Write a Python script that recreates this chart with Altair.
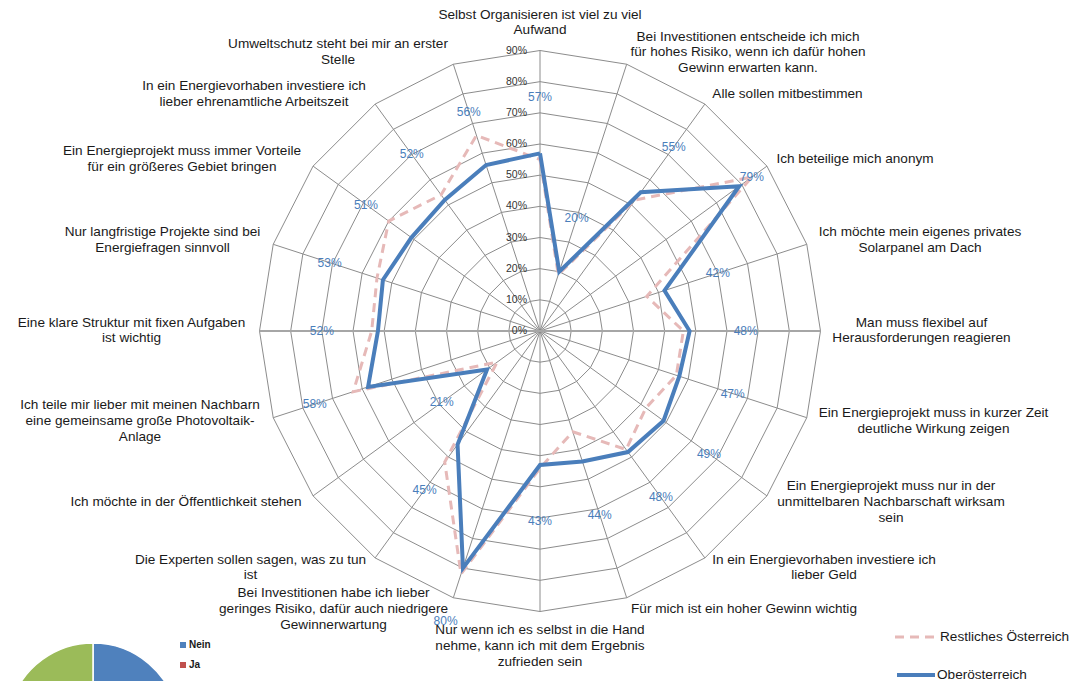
import altair as alt
import pandas as pd

# ---------------- data ----------------
categories = [
    "Selbst Organisieren ist viel zu viel\nAufwand",
    "Bei Investitionen entscheide ich mich\nfür hohes Risiko, wenn ich dafür hohen\nGewinn erwarten kann.",
    "Alle sollen mitbestimmen",
    "Ich beteilige mich anonym",
    "Ich möchte mein eigenes privates\nSolarpanel am Dach",
    "Man muss flexibel auf\nHerausforderungen reagieren",
    "Ein Energieprojekt muss in kurzer Zeit\ndeutliche Wirkung zeigen",
    "Ein Energieprojekt muss nur in der\nunmittelbaren Nachbarschaft wirksam\nsein",
    "In ein Energievorhaben investiere ich\nlieber Geld",
    "Für mich ist ein hoher Gewinn wichtig",
    "Nur wenn ich es selbst in die Hand\nnehme, kann ich mit dem Ergebnis\nzufrieden sein",
    "Bei Investitionen habe ich lieber\ngeringes Risiko, dafür auch niedrigere\nGewinnerwartung",
    "Die Experten sollen sagen, was zu tun\nist",
    "Ich möchte in der Öffentlichkeit stehen",
    "Ich teile mir lieber mit meinen Nachbarn\neine gemeinsame große Photovoltaik-\nAnlage",
    "Eine klare Struktur mit fixen Aufgaben\nist wichtig",
    "Nur langfristige Projekte sind bei\nEnergiefragen sinnvoll",
    "Ein Energieprojekt muss immer Vorteile\nfür ein größeres Gebiet bringen",
    "In ein Energievorhaben investiere ich\nlieber ehrenamtliche Arbeitszeit",
    "Umweltschutz steht bei mir an erster\nStelle",
]
oberoesterreich = [57, 20, 55, 79, 42, 48, 47, 49, 48, 44, 43, 80, 45, 21, 58, 52, 53, 51, 52, 56]
restliches = [55, 19, 52, 84, 36, 46, 46, 42, 47, 34, 44, 82, 52, 17, 63, 54, 55, 60, 54, 66]
series_names = ["Restliches Österreich", "Oberösterreich"]
grid_levels = [10, 20, 30, 40, 50, 60, 70, 80, 90]
tick_values = [0, 10, 20, 30, 40, 50, 60, 70, 80, 90]
tick_labels = ["0%", "10%", "20%", "30%", "40%", "50%", "60%", "70%", "80%", "90%"]
pie_labels = ["Nein", "Ja", "Keine Angabe"]
pie_values = [45, 15, 40]
pie_legend_labels = ["Nein", "Ja"]

# ---------------- layout (not data) ----------------
W, H = 1087, 681
CX, CY = 540.0, 331.0          # radar centre, px
K = 280.5 / 90.0               # px per percentage point
N = len(categories)
LH = 15.7                      # category label line height
LABEL_OFFSET = [18] * N        # value-label radial offset (percentage points)
LABEL_OFFSET[3] = 5
LABEL_POS = [(540, 22.5), (748, 52.5), (787.5, 94), (855, 159), (920, 240),
             (921.5, 330.5), (933.5, 421), (891, 502), (824, 567.5), (744, 609),
             (540, 646), (333.5, 609), (250.5, 567.5), (186, 502), (140, 421),
             (131.5, 330.5), (162.5, 240), (182, 159), (254, 94), (338, 52)]
FONT = "Liberation Sans"
BLUE = "#4A7EBB"
PINK = "#E6B9B8"
GRID = "#8C8C8C"

xs = alt.Scale(domain=[-CX / K, (W - CX) / K], range=[0, W], nice=False, zero=False)
ys = alt.Scale(domain=[-(H - CY) / K, CY / K], range=[H, 0], nice=False, zero=False)
X = lambda f: alt.X(f, type="quantitative", scale=xs, axis=None)
Y = lambda f: alt.Y(f, type="quantitative", scale=ys, axis=None)
X2 = lambda f: alt.X2(f)
Y2 = lambda f: alt.Y2(f)

XE = f"datum.v*sin(datum.idx*PI/{N//2})"
YE = f"datum.v*cos(datum.idx*PI/{N//2})"

# grid rings
grid_df = pd.DataFrame([{"lvl": L, "k": k, "idx": k % N, "v": L}
                        for L in grid_levels for k in range(N + 1)])
grid = alt.Chart(grid_df).transform_calculate(x=XE, y=YE).mark_line(
    color=GRID, strokeWidth=1).encode(
    x=X("x"), y=Y("y"), detail="lvl:N", order="k:Q")

# spokes
spoke_df = pd.DataFrame({"idx": list(range(N)), "v": [grid_levels[-1]] * N})
spokes = alt.Chart(spoke_df).transform_calculate(x=XE, y=YE, x0="0", y0="0").mark_rule(
    color=GRID, strokeWidth=1).encode(x=X("x0"), y=Y("y0"), x2=X2("x"), y2=Y2("y"))

# horizontal axis line
hax_df = pd.DataFrame({"a": [-grid_levels[-1]], "b": [grid_levels[-1]], "z": [0]})
hax = alt.Chart(hax_df).mark_rule(color="#A6A6A6", strokeWidth=2).encode(
    x=X("a"), x2=X2("b"), y=Y("z"))

# tick labels
tick_df = pd.DataFrame({"v": tick_values, "t": tick_labels, "z": [0] * len(tick_values)})
ticks = alt.Chart(tick_df).mark_text(
    align="right", baseline="middle", dx=-13, fontSize=10.5, font=FONT, color="#333333").encode(
    x=X("z"), y=Y("v"), text="t:N")

# series lines
def series_df(vals, name):
    return pd.DataFrame([{"k": k, "idx": k % N, "v": vals[k % N], "s": name} for k in range(N + 1)])

red_line = alt.Chart(series_df(restliches, series_names[0])).transform_calculate(x=XE, y=YE).mark_line(
    color=PINK, strokeWidth=3, strokeDash=[9, 6], strokeJoin="miter").encode(
    x=X("x"), y=Y("y"), order="k:Q")
blue_line = alt.Chart(series_df(oberoesterreich, series_names[1])).transform_calculate(x=XE, y=YE).mark_line(
    color=BLUE, strokeWidth=4, strokeJoin="miter").encode(
    x=X("x"), y=Y("y"), order="k:Q")

# value labels (Oberösterreich)
vl_df = pd.DataFrame({"idx": list(range(N)),
                      "v": [oberoesterreich[i] + LABEL_OFFSET[i] for i in range(N)],
                      "t": [f"{p}%" for p in oberoesterreich]})
vlabels = alt.Chart(vl_df).transform_calculate(x=XE, y=YE).mark_text(
    align="center", baseline="middle", fontSize=12, font=FONT, color=BLUE).encode(
    x=X("x"), y=Y("y"), text="t:N")

# category labels (y of the first line = block centre minus half the extra lines)
cat_df = pd.DataFrame({"c": categories,
                       "px": [p[0] for p in LABEL_POS],
                       "py": [p[1] for p in LABEL_POS],
                       "nl": [c.count("\n") for c in categories]})
clabels = alt.Chart(cat_df).transform_calculate(
    x=f"(datum.px-{CX})/{K}",
    y=f"({CY}-(datum.py-datum.nl*{LH}/2))/{K}").mark_text(
    align="center", baseline="middle", fontSize=13.6, lineHeight=LH, lineBreak="\n",
    font=FONT, color="#1A1A1A").encode(x=X("x"), y=Y("y"), text="c:N")

# legend (series)
one = pd.DataFrame({"a": [0]})
leg_red = alt.Chart(one).mark_rule(color=PINK, strokeWidth=3, strokeDash=[9, 6]).encode(
    x=alt.value(895), x2=alt.value(935), y=alt.value(637))
leg_blue = alt.Chart(one).mark_rule(color=BLUE, strokeWidth=4).encode(
    x=alt.value(897), x2=alt.value(935), y=alt.value(675))
leg_t1 = alt.Chart(one).mark_text(align="left", baseline="middle", fontSize=13.6, font=FONT,
                                  color="#1A1A1A", text=series_names[0]).encode(
    x=alt.value(940), y=alt.value(637))
leg_t2 = alt.Chart(one).mark_text(align="left", baseline="middle", fontSize=13.6, font=FONT,
                                  color="#1A1A1A", text=series_names[1]).encode(
    x=alt.value(937), y=alt.value(675))

# partially visible pie in the lower-left corner
pie_colors = ["#4F81BD", "#C0504D", "#9BBB59"]
pie_df = pd.DataFrame({"lab": pie_labels, "pv": pie_values, "po": [0, 1, 2], "col": pie_colors})
pie = alt.Chart(pie_df).mark_arc(outerRadius=86, stroke="white", strokeWidth=1.5).encode(
    theta=alt.Theta("pv:Q", stack=True), order=alt.Order("po:Q"),
    color=alt.Color("col:N", scale=None), x=alt.value(93), y=alt.value(729))
pl_df = pd.DataFrame({"lab": pie_legend_labels, "col": pie_colors[:2], "py": [645, 665]})
pie_sq = alt.Chart(pl_df).mark_square(size=36, opacity=1).encode(
    x=alt.value(183), y=alt.Y("py:Q", scale=None), color=alt.Color("col:N", scale=None))
pie_tx = alt.Chart(pl_df).mark_text(align="left", baseline="middle", fontSize=10, fontWeight="bold",
                                    font=FONT, color="#1A1A1A").encode(
    x=alt.value(189), y=alt.Y("py:Q", scale=None), text="lab:N")

chart = alt.layer(
    grid, spokes, hax, ticks, red_line, blue_line, vlabels, clabels,
    leg_red, leg_blue, leg_t1, leg_t2, pie, pie_sq, pie_tx
).resolve_scale(y="independent").properties(
    width=W, height=H, autosize=alt.AutoSizeParams(type="none"), padding=0,
    background="white"
).configure_view(strokeWidth=0)

chart.save("out.html", embed_options={"renderer": "svg", "actions": False})
